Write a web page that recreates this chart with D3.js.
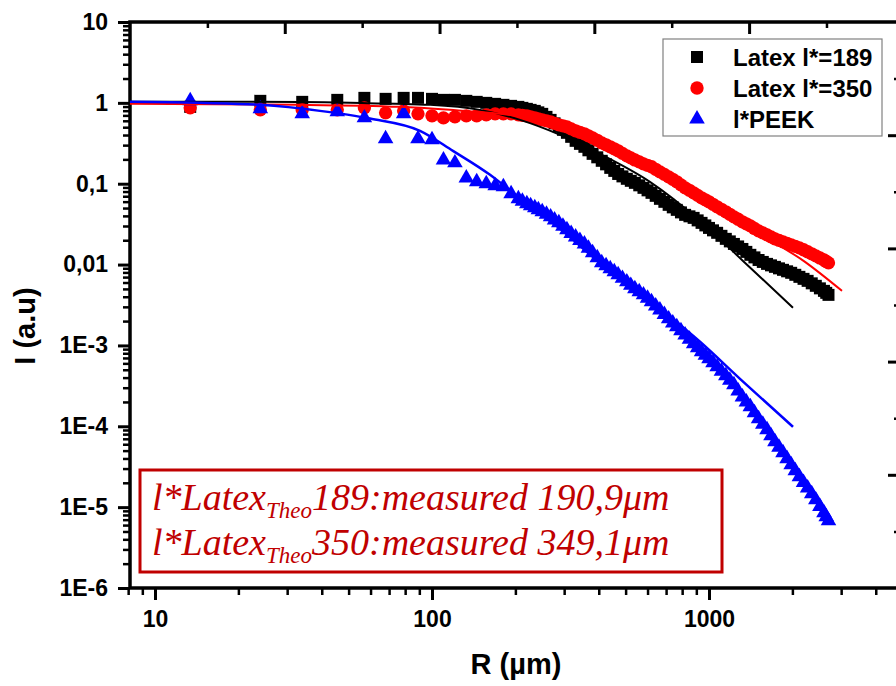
<!DOCTYPE html>
<html><head><meta charset="utf-8">
<script src="https://cdn.jsdelivr.net/npm/d3@7"></script>
<style>body{margin:0;background:#fff}svg{display:block}</style>
</head><body>
<svg id="c" width="896" height="686"></svg>
<script>
// ---------- data ----------
const R = [13.4, 24, 34, 45.5, 57, 68, 79, 89, 100, 110, 121, 133, 145, 157, 169, 181, 193,
  205, 212, 220, 227, 235, 242, 250, 259, 268, 277, 287, 297, 307, 318, 330, 342, 355, 367, 380, 395,
  410, 425, 440, 455, 470, 487, 505, 522, 540, 560, 580, 600, 620, 642, 665, 690, 715, 740, 765, 792,
  820, 850, 880, 910, 940, 970, 1000, 1034, 1070, 1109, 1150, 1189, 1230, 1274, 1320, 1364, 1410, 1459,
  1510, 1564, 1620, 1674, 1730, 1789, 1850, 1914, 1980, 2049, 2120, 2194, 2270, 2349, 2430, 2514, 2600, 2650, 2700];
const latex189 = [0.892, 1.059, 1.029, 1.089, 1.153, 1.121, 1.153, 1.153, 1.121, 1.089, 1.089, 1.059, 1.029, 1.0, 0.972, 0.945, 0.918,
  0.892, 0.867, 0.843, 0.819, 0.796, 0.763, 0.731, 0.671, 0.616, 0.558, 0.505, 0.464, 0.426, 0.380, 0.339, 0.311, 0.286, 0.259, 0.234, 0.212,
  0.192, 0.1736, 0.157, 0.144, 0.132, 0.1232, 0.115, 0.1086, 0.1025, 0.0955, 0.0889, 0.0828, 0.0771, 0.0708, 0.0650, 0.0597, 0.0548, 0.0510, 0.0475, 0.0442,
  0.0412, 0.0395, 0.0378, 0.0352, 0.0328, 0.0305, 0.0284, 0.0265, 0.0247, 0.02267, 0.0208, 0.01935, 0.0180, 0.01676, 0.0156, 0.01435, 0.0132, 0.01227,
  0.0114, 0.01078, 0.0102, 0.00978, 0.00937, 0.00898, 0.00861, 0.00825, 0.00791, 0.00747, 0.00705, 0.00666, 0.00629, 0.00586, 0.00546, 0.00508, 0.00473, 0.00447, 0.00422];
const latex350 = [0.867, 0.819, 0.819, 0.819, 0.867, 0.752, 0.796, 0.731, 0.691, 0.652, 0.671, 0.691, 0.691, 0.711, 0.731, 0.731, 0.731,
  0.711, 0.701, 0.691, 0.671, 0.652, 0.634, 0.616, 0.599, 0.582, 0.558, 0.535, 0.520, 0.505, 0.477, 0.451, 0.432, 0.414, 0.391, 0.369, 0.344,
  0.320, 0.3025, 0.286, 0.270, 0.255, 0.2374, 0.221, 0.2087, 0.197, 0.1862, 0.176, 0.1689, 0.162, 0.1506, 0.140, 0.1305, 0.1216, 0.1133, 0.1055, 0.0968,
  0.0889, 0.0828, 0.0771, 0.0718, 0.0669, 0.0632, 0.0597, 0.0556, 0.0518, 0.0482, 0.0449, 0.0418, 0.0389, 0.0363, 0.0338, 0.0319, 0.0301, 0.0280,
  0.0261, 0.02466, 0.0233, 0.02201, 0.0208, 0.01993, 0.0191, 0.01828, 0.0175, 0.01679, 0.0161, 0.01523, 0.0144, 0.01358, 0.0128, 0.01208, 0.0114, 0.01094, 0.0105];
const peek = [1.059, 0.843, 0.731, 0.774, 0.652, 0.359, 0.731, 0.359, 0.349, 0.197, 0.181, 0.118, 0.1055, 0.0996, 0.0941, 0.0915, 0.0749,
  0.0650, 0.0605, 0.0564, 0.0533, 0.0503, 0.0475, 0.0449, 0.0418, 0.0389, 0.0357, 0.0328, 0.0297, 0.0269, 0.0243, 0.0220, 0.0199, 0.0180, 0.01587, 0.0140, 0.01212,
  0.0105, 0.00964, 0.00885, 0.00813, 0.00746, 0.00675, 0.00611, 0.00553, 0.00501, 0.00460, 0.00422, 0.00382, 0.00346, 0.00308, 0.00275, 0.00242, 0.00213, 0.00190, 0.00170, 0.001515,
  0.00135, 0.00119, 0.00105, 0.000935, 0.000833, 0.000754, 0.000683, 0.000609, 0.000543, 0.000478, 0.000421, 0.000370, 0.000326, 0.000274, 0.000231, 0.000200, 0.000174, 0.000147,
  0.000124, 0.000106, 0.0000904, 0.0000762, 0.0000643, 0.0000550, 0.0000470, 0.0000396, 0.0000334, 0.0000281, 0.0000237, 0.0000202, 0.0000173, 0.0000146, 0.0000123, 0.0000102, 0.0000085, 0.0000076, 0.0000068];

const fit189R = [8.12, 22, 50.6, 98.4, 149, 208, 290, 404, 612, 928, 1327, 2010];
const fit189I = [1.029, 1.029, 1.0, 0.945, 0.819, 0.616, 0.402, 0.234, 0.1055, 0.0347, 0.0111, 0.00292];
const fit350R = [8.12, 33.4, 76.6, 116, 176, 267, 404, 612, 928, 1406, 2221, 3020];
const fit350I = [0.972, 0.945, 0.892, 0.819, 0.731, 0.599, 0.359, 0.181, 0.0728, 0.0284, 0.0108, 0.00473];
const fitPeekR = [8.12, 14.5, 24, 39.4, 59.7, 90.5, 119, 162, 208, 290, 404, 612, 928, 1294, 2010];
const fitPeekI = [1.029, 1.0, 0.945, 0.796, 0.640, 0.451, 0.255, 0.1288, 0.0650, 0.0277, 0.0105, 0.00356, 0.00111, 0.000386, 0.0000984];

const yTickValues = [10, 1, 0.1, 0.01, 1e-3, 1e-4, 1e-5, 1e-6];
const yTickLabels = ["10", "1", "0,1", "0,01", "1E-3", "1E-4", "1E-5", "1E-6"];
const xTickValues = [10, 100, 1000];
const xTickLabels = ["10", "100", "1000"];
const legendLabels = ["Latex l*=189", "Latex l*=350", "l*PEEK"];
const colors = ["#000000", "#ff0000", "#0000ff"];
const xTitle = "R (\u00b5m)";
const yTitle = "I (a.u)";
const noteLines = [["l*Latex", "Theo", "189:measured 190,9\u03bcm"], ["l*Latex", "Theo", "350:measured 349,1\u03bcm"]];

// ---------- layout ----------
const svg = d3.select("#c");
const PL = 130, PR = 900, PT = 22, PB = 588;
const x = d3.scaleLog().domain([10, 1000]).range([155, 709]);
const y = d3.scaleLog().domain([10, 1e-6]).range([PT, PB]);
const xTop = d3.scaleLinear().domain([0, 9.95]).range([PL, PR]);
const yRight = d3.scaleLinear().domain([0, 5]).range([PB, PT]);

const sans = "'Liberation Sans', Arial, sans-serif";

function styleAxis(g, w) {
  g.select(".domain").remove();
  g.selectAll(".tick line").attr("stroke", "#000").attr("stroke-width", w);
}
const yMinor = [];
for (let e = -6; e < 1; e++) for (let k = 2; k <= 9; k++) yMinor.push(k * Math.pow(10, e));
const xMinor = [];
for (let e = 0; e < 4; e++) for (let k = 1; k <= 9; k++) {
  const v = k * Math.pow(10, e);
  if (k !== 1 && v >= 8 && v <= 4800) xMinor.push(v);
}

// left axis
svg.append("g").attr("transform", `translate(${PL},0)`)
  .call(d3.axisLeft(y).tickValues(yMinor).tickSize(7).tickFormat(""))
  .call(g => styleAxis(g, 2.5));
const gl = svg.append("g").attr("transform", `translate(${PL},0)`)
  .call(d3.axisLeft(y).tickValues(yTickValues).tickSize(12).tickPadding(10)
    .tickFormat((d, i) => yTickLabels[i]))
  .call(g => styleAxis(g, 3));
gl.selectAll("text").attr("font-family", sans).attr("font-size", 23).attr("font-weight", "bold").attr("fill", "#000");

// bottom axis
svg.append("g").attr("transform", `translate(0,${PB})`)
  .call(d3.axisBottom(x).tickValues(xMinor).tickSize(7).tickFormat(""))
  .call(g => styleAxis(g, 2.5));
const gb = svg.append("g").attr("transform", `translate(0,${PB})`)
  .call(d3.axisBottom(x).tickValues(xTickValues).tickSize(12).tickPadding(11)
    .tickFormat((d, i) => xTickLabels[i]))
  .call(g => styleAxis(g, 3));
gb.selectAll("text").attr("font-family", sans).attr("font-size", 23).attr("font-weight", "bold").attr("fill", "#000");

// top axis (linear, inward)
svg.append("g").attr("transform", `translate(0,${PT})`)
  .call(d3.axisBottom(xTop).tickValues(d3.range(1, 10, 2)).tickSize(6).tickFormat(""))
  .call(g => styleAxis(g, 2.5));
svg.append("g").attr("transform", `translate(0,${PT})`)
  .call(d3.axisBottom(xTop).tickValues(d3.range(2, 10, 2)).tickSize(12).tickFormat(""))
  .call(g => styleAxis(g, 3));
// right axis (linear, inward)
svg.append("g").attr("transform", `translate(${PR},0)`)
  .call(d3.axisLeft(yRight).tickValues(d3.range(0.5, 5, 1)).tickSize(6).tickFormat(""))
  .call(g => styleAxis(g, 2.5));
svg.append("g").attr("transform", `translate(${PR},0)`)
  .call(d3.axisLeft(yRight).tickValues(d3.range(1, 5, 1)).tickSize(12).tickFormat(""))
  .call(g => styleAxis(g, 3));

// frame
svg.append("rect").attr("x", PL).attr("y", PT).attr("width", PR - PL).attr("height", PB - PT)
  .attr("fill", "none").attr("stroke", "#000").attr("stroke-width", 3.5);

// ---------- markers ----------
const symbols = [
  d3.symbol().type(d3.symbolSquare).size(144),
  d3.symbol().type(d3.symbolCircle).size(140),
  d3.symbol().type(d3.symbolTriangle).size(105)
];
const series = [latex189, latex350, peek];
series.forEach((vals, s) => {
  svg.append("g").selectAll("path").data(R.map((r, i) => [r, vals[i]])).join("path")
    .attr("d", symbols[s]())
    .attr("transform", d => `translate(${x(d[0])},${y(d[1])})`)
    .attr("fill", colors[s]);
});

// ---------- fits ----------
const line = d3.line().x(d => x(d[0])).y(d => y(d[1])).curve(d3.curveMonotoneX);
[[fit189R, fit189I, 2], [fit350R, fit350I, 2], [fitPeekR, fitPeekI, 2.5]].forEach(([rr, ii, w], s) => {
  svg.append("path").datum(rr.map((r, i) => [r, ii[i]]))
    .attr("d", line).attr("fill", "none").attr("stroke", colors[s]).attr("stroke-width", w);
});

// ---------- titles ----------
svg.append("text").attr("x", 516).attr("y", 674).attr("text-anchor", "middle")
  .attr("font-family", sans).attr("font-size", 29).attr("font-weight", "bold").text(xTitle);
svg.append("text").attr("transform", "translate(35,326) rotate(-90)").attr("text-anchor", "middle")
  .attr("font-family", sans).attr("font-size", 29).attr("font-weight", "bold").text(yTitle);

// ---------- legend ----------
const lg = svg.append("g");
lg.append("rect").attr("x", 663).attr("y", 39).attr("width", 219).attr("height", 97)
  .attr("fill", "#fff").attr("stroke", "#808080").attr("stroke-width", 1.2);
legendLabels.forEach((t, i) => {
  const cy = 57 + i * 31;
  lg.append("path").attr("d", symbols[i]()).attr("transform", `translate(697,${cy})`).attr("fill", colors[i]);
  lg.append("text").attr("x", 733).attr("y", cy + 8.5).attr("font-family", sans)
    .attr("font-size", 24).attr("font-weight", "bold").attr("fill", "#000").text(t);
});

// ---------- annotation ----------
const noteColor = "#c00000";
svg.append("rect").attr("x", 140).attr("y", 470).attr("width", 582).attr("height", 102)
  .attr("fill", "#fff").attr("stroke", noteColor).attr("stroke-width", 3);
noteLines.forEach((parts, i) => {
  const t = svg.append("text").attr("x", 152).attr("y", 510 + i * 45)
    .attr("font-family", "'Liberation Serif', 'Times New Roman', serif").attr("font-style", "italic")
    .attr("fill", noteColor).attr("font-size", 38);
  t.append("tspan").text(parts[0]);
  t.append("tspan").attr("font-size", 23).attr("dy", 8).text(parts[1]);
  t.append("tspan").attr("dy", -8).text(parts[2]);
});
</script>
</body></html>
